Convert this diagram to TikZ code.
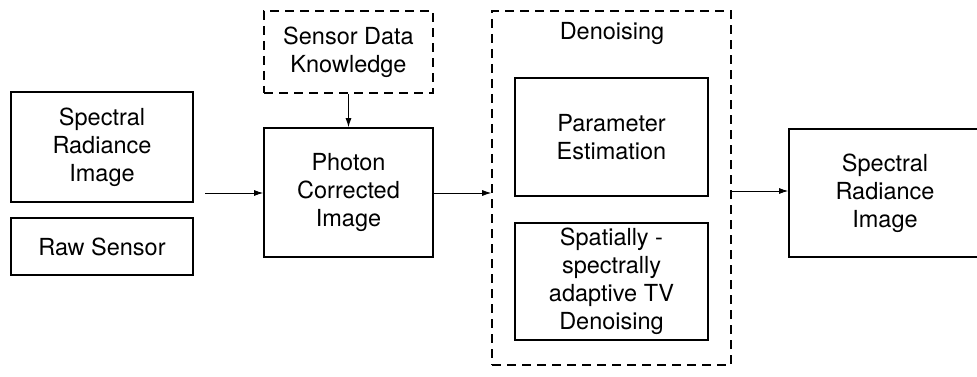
\documentclass[tikz,border=0pt]{standalone}
\usepackage{fontspec}
\setmainfont{TeX Gyre Heros}
\usepackage{tikz}
\usetikzlibrary{positioning}
\usetikzlibrary{arrows.meta}

\begin{document}
\begin{tikzpicture}[x=1pt,y=-1pt]
% Define styles
\tikzstyle{block} = [rectangle, draw, line width=1.8pt, inner sep=0pt, align=center, font=\fontsize{23.5}{28}\selectfont]
\tikzstyle{dashblock} = [block, dash pattern=on 9pt off 6pt, line width=1.6pt]
\tikzstyle{link} = [-{Latex[length=9pt,width=6pt]}, line width=0.8pt]
\useasboundingbox (0,0) rectangle (977,377);
% Define nodes
\node[block, minimum width=182pt, minimum height=110pt] (radiance_in) at (102,147) {Spectral\\Radiance\\Image};
\node[block, minimum width=182pt, minimum height=57pt] (raw) at (102,246.5) {Raw Sensor};
\node[dashblock, minimum width=169pt, minimum height=82pt] (sensor) at (348.5,52) {Sensor Data\\Knowledge};
\node[block, minimum width=169pt, minimum height=129pt] (photon) at (348.5,192.5) {Photon\\Corrected\\Image};
\node[dashblock, minimum width=239pt, minimum height=354pt] (denoise) at (611.5,188) {};
\node[font=\fontsize{23.5}{28}\selectfont] (denoise_label) at (612,33) {Denoising};
\node[block, minimum width=193pt, minimum height=118pt] (param) at (611.5,137) {Parameter\\Estimation};
\node[block, minimum width=193pt, minimum height=117pt] (tv) at (611.5,281.5) {Spatially -\\spectrally\\adaptive TV\\Denoising};
\node[block, minimum width=192pt, minimum height=128pt] (radiance_out) at (885,193) {Spectral\\Radiance\\Image};
\coordinate (input) at (205,193);

% Connect the nodes
\draw[link] (input) -- (input -| photon.west);
\draw[link] (sensor) -- (photon);
\draw[link] (photon.east |- input) -- (input -| denoise.west);
\draw[link] (denoise.east |- 0,191) -- (radiance_out.west |- 0,191);

\end{tikzpicture}
\end{document}
